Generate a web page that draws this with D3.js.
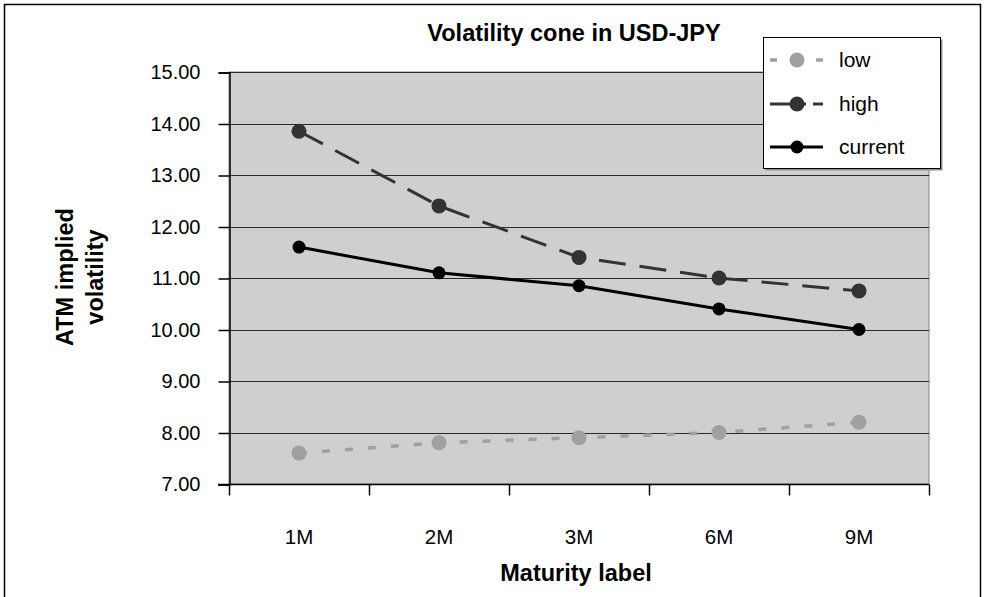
<!DOCTYPE html>
<html>
<head>
<meta charset="utf-8">
<script src="https://cdn.jsdelivr.net/npm/d3@7"></script>
<style>
  html, body { margin: 0; padding: 0; background: #fff; }
  svg { display: block; font-family: "Liberation Sans", Arial, sans-serif; }
</style>
</head>
<body>
<svg id="chart" width="984" height="597"></svg>
<script>
// Maturities and ATM implied volatility levels (%)
const maturities = ["1M", "2M", "3M", "6M", "9M"];
const lowVol = [7.6, 7.8, 7.9, 8.0, 8.2];
const highVol = [13.85, 12.4, 11.4, 11.0, 10.75];
const currentVol = [11.6, 11.1, 10.85, 10.4, 10.0];
const yTicks = [7, 8, 9, 10, 11, 12, 13, 14, 15];

const series = [
  { name: "low", values: lowVol, color: "#a0a0a0", width: 3.5, dash: "8,15", r: 7.5 },
  { name: "high", values: highVol, color: "#333333", width: 3, dash: "27,14", r: 7.5 },
  { name: "current", values: currentVol, color: "#000000", width: 3, dash: null, r: 6.5 }
];

const svg = d3.select("#chart");
const plot = { left: 229, right: 929, top: 72, bottom: 484 };

// outer frame
svg.append("rect")
  .attr("x", 4.5).attr("y", 4.5).attr("width", 976).attr("height", 600)
  .attr("fill", "#fff").attr("stroke", "#000").attr("stroke-width", 1.5);

const x = d3.scaleBand().domain(maturities).range([plot.left, plot.right]).padding(0);
const y = d3.scaleLinear().domain([7, 15]).range([plot.bottom, plot.top]);
const cx = d => x(d) + x.bandwidth() / 2;

// plot background
svg.append("rect")
  .attr("x", plot.left).attr("y", plot.top)
  .attr("width", plot.right - plot.left).attr("height", plot.bottom - plot.top)
  .attr("fill", "#cfcfcf").attr("stroke", "#808080").attr("stroke-width", 1);

// horizontal gridlines
svg.append("g").selectAll("line")
  .data(yTicks.slice(1))
  .join("line")
  .attr("x1", plot.left).attr("x2", plot.right)
  .attr("y1", d => Math.round(y(d)) + 0.5).attr("y2", d => Math.round(y(d)) + 0.5)
  .attr("stroke", "#2a2a2a").attr("stroke-width", 1);

// y axis
const yAxis = svg.append("g")
  .attr("transform", `translate(${plot.left + 0.5},0.5)`)
  .call(d3.axisLeft(y).tickValues(yTicks).tickFormat(d3.format(".2f")).tickSize(11).tickPadding(18));
yAxis.select(".domain").attr("stroke", "#000").attr("stroke-width", 1.5);
yAxis.selectAll(".tick line").attr("stroke", "#000").attr("stroke-width", 1.5);
yAxis.selectAll(".tick text").attr("font-size", 20).attr("fill", "#000")
  .attr("font-family", "Liberation Sans, Arial, sans-serif");

// x axis: ticks sit on the category boundaries
const xAxisG = svg.append("g").attr("transform", `translate(0,${plot.bottom + 0.5})`);
xAxisG.append("line")
  .attr("x1", plot.left - 11).attr("x2", plot.right)
  .attr("stroke", "#000").attr("stroke-width", 1.5);
const bounds = maturities.map(m => x(m)).concat([plot.right]);
xAxisG.selectAll("line.tk").data(bounds).join("line").attr("class", "tk")
  .attr("x1", d => d + 0.5).attr("x2", d => d + 0.5).attr("y1", 0).attr("y2", 11)
  .attr("stroke", "#000").attr("stroke-width", 1.5);
xAxisG.selectAll("text").data(maturities).join("text")
  .attr("x", d => cx(d)).attr("y", 59)
  .attr("text-anchor", "middle").attr("font-size", 20.5).attr("fill", "#000")
  .text(d => d);

// series lines and markers
const line = d3.line().x((d, i) => cx(maturities[i])).y(d => y(d));
series.forEach(s => {
  svg.append("path")
    .datum(s.values)
    .attr("d", line)
    .attr("fill", "none")
    .attr("stroke", s.color)
    .attr("stroke-width", s.width)
    .attr("stroke-dasharray", s.dash);
  svg.append("g").selectAll("circle")
    .data(s.values)
    .join("circle")
    .attr("cx", (d, i) => cx(maturities[i]))
    .attr("cy", d => y(d))
    .attr("r", s.r)
    .attr("fill", s.color);
});

// titles
svg.append("text")
  .attr("x", 574).attr("y", 41)
  .attr("text-anchor", "middle").attr("font-size", 23.5).attr("font-weight", "bold")
  .text("Volatility cone in USD-JPY");

svg.append("text")
  .attr("x", 576).attr("y", 581)
  .attr("text-anchor", "middle").attr("font-size", 23.5).attr("font-weight", "bold")
  .text("Maturity label");

const yTitle = svg.append("text")
  .attr("transform", "translate(0,277) rotate(-90)")
  .attr("text-anchor", "middle").attr("font-size", 23.5).attr("font-weight", "bold");
yTitle.append("tspan").attr("x", 0).attr("y", 73).text("ATM implied");
yTitle.append("tspan").attr("x", 0).attr("y", 103).text("volatility");

// legend
const legend = svg.append("g");
legend.append("rect")
  .attr("x", 765.5).attr("y", 39.5).attr("width", 177).attr("height", 131)
  .attr("fill", "#909090");
legend.append("rect")
  .attr("x", 763.5).attr("y", 37.5).attr("width", 177).attr("height", 131)
  .attr("fill", "#fff").attr("stroke", "#000").attr("stroke-width", 1);
const legendY = [60, 104, 147];
series.forEach((s, i) => {
  const ly = legendY[i];
  const g = legend.append("g");
  g.append("line")
    .attr("x1", 770).attr("x2", 823).attr("y1", ly).attr("y2", ly)
    .attr("stroke", s.color).attr("stroke-width", s.width)
    .attr("stroke-dasharray", s.name === "low" ? "7,39,7" : s.name === "high" ? "36,7,10" : null);
  g.append("circle").attr("cx", 797).attr("cy", ly).attr("r", s.r).attr("fill", s.color);
  g.append("text")
    .attr("x", 839).attr("y", ly + 7)
    .attr("font-size", 21).attr("fill", "#000")
    .text(s.name);
});
</script>
</body>
</html>
